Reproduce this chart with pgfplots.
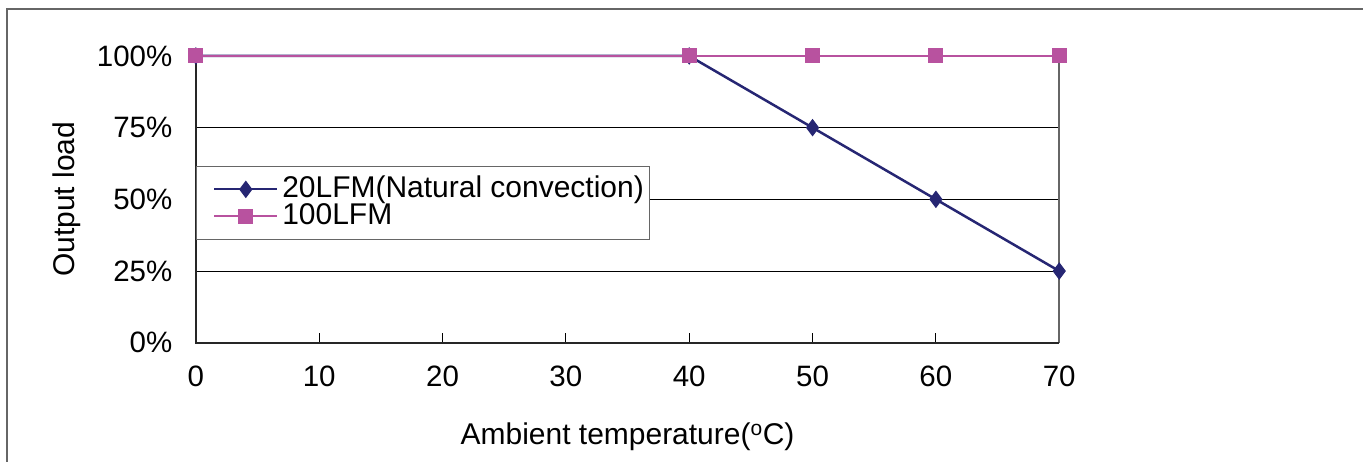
\documentclass[border=0pt]{standalone}
\usepackage{fontspec}
\setmainfont{Liberation Sans}
\usepackage{pgfplots}
\pgfplotsset{compat=1.18}
\definecolor{navyc}{HTML}{262673}
\definecolor{pinkc}{HTML}{B8529F}
\definecolor{framec}{HTML}{666666}
\begin{document}
\begin{tikzpicture}[x=1pt,y=1pt]
\path (0,0) rectangle (1364,462);
\draw[color=framec, line width=2pt] (7,0) -- (7,453) -- (1364,453);
\begin{axis}[
  at={(196pt,119pt)}, anchor=south west,
  scale only axis, width=864pt, height=287pt,
  xmin=0, xmax=70, ymin=0, ymax=100,
  xtick={0,10,...,70},
  ytick={0,25,50,75,100},
  yticklabels={0\%,25\%,50\%,75\%,100\%},
  axis line style={draw=none},
  ymajorgrids, grid style={black, line width=1pt},
  tick style={black, line width=1pt},
  xtick pos=bottom, ytick pos=left,
  tick align=inside,
  major tick length=10pt,
  y tick style={draw=none},
  /pgf/number format/assume math mode=true,
  ticklabel style={font=\fontsize{29.5}{29.5}\selectfont},
  xticklabel style={yshift=-20pt},
  yticklabel style={xshift=-20pt},
  xlabel={Ambient temperature(\textsuperscript{o}C)},
  ylabel={Output load},
  label style={font=\fontsize{30}{30}\selectfont},
  xlabel style={at={(axis description cs:0.5,0)}, anchor=base, yshift=-102pt},
  ylabel style={at={(axis description cs:0,0.5)}, anchor=base, rotate=0, yshift=121pt},
  legend style={at={(axis description cs:0,0.6167)}, anchor=north west,
    draw=framec, line width=1pt, fill=white, inner xsep=17pt, inner ysep=9.5pt,
    font=\fontsize{30}{30}\selectfont, row sep=0pt,
    nodes={inner sep=0pt, text height=22pt, text depth=5pt},
    /tikz/every odd column/.append style={column sep=4pt},
    cells={anchor=west}},
  legend image code/.code={%
    \draw[#1,mark=none,line width=2pt] (0pt,0pt) -- (63pt,0pt);
    \draw[#1,only marks] plot coordinates {(31.5pt,0pt)};},
  clip=false,
]
\draw[color=framec, line width=1.5pt] (axis cs:70,0) -- (axis cs:70,100);
\draw[color=black!85, line width=2pt] (axis cs:0,100) -- (axis cs:0,0) -- (axis cs:70,0);
\addplot[color=navyc, line width=2.5pt, mark=diamond*, mark size=8pt, mark options={fill=navyc, line width=1pt}]
  coordinates {(0,100) (40,100) (50,75) (60,50) (70,25)};
\addlegendentry{\makebox[350pt][l]{20LFM(Natural convection)}}
\addplot[color=pinkc, line width=2.5pt, mark=square*, mark size=7pt, mark options={fill=pinkc, line width=1pt}]
  coordinates {(0,100) (40,100) (50,100) (60,100) (70,100)};
\addlegendentry{100LFM}
\end{axis}
\end{tikzpicture}
\end{document}
